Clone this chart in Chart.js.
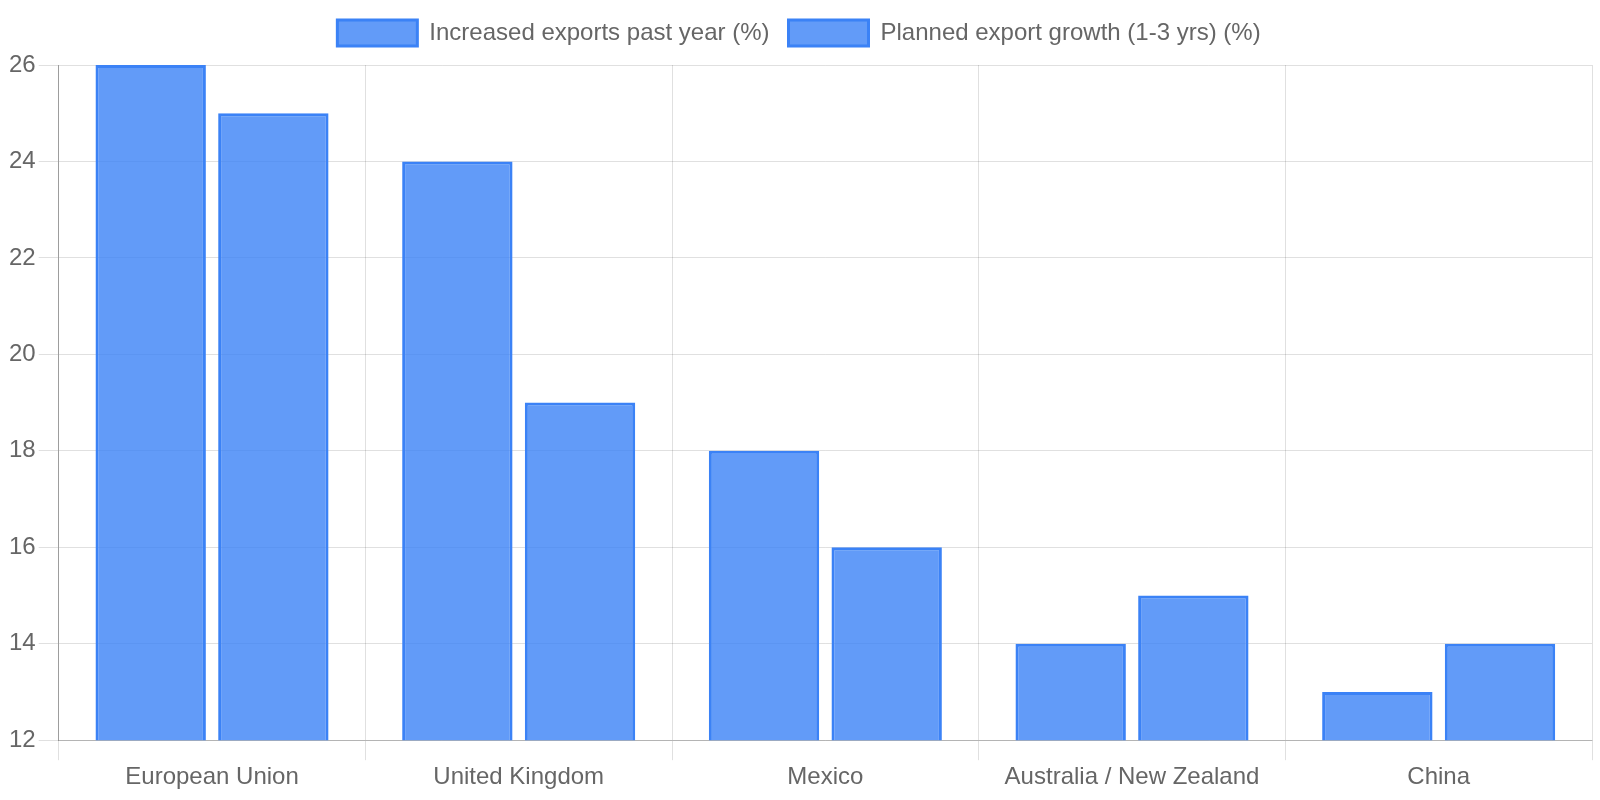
<!DOCTYPE html>
<html>
<head>
<meta charset="utf-8">
<script src="https://cdn.jsdelivr.net/npm/chart.js@4"></script>
<style>
  html, body { margin: 0; padding: 0; background: #fff; }
  #wrap { width: 1600px; height: 800px; }
</style>
</head>
<body>
<div id="wrap"><canvas id="chart"></canvas></div>
<script>
const regions = ['European Union', 'United Kingdom', 'Mexico', 'Australia / New Zealand', 'China'];
const increasedPastYear = [26, 24, 18, 14, 13];
const plannedGrowth = [25, 19, 16, 15, 14];

Chart.defaults.font.family = "'Liberation Sans', Arial, sans-serif";
Chart.defaults.font.size = 24;
Chart.defaults.color = '#666';

// a bit more room under the legend
const legendGap = {
  id: 'legendGap',
  beforeInit(chart) {
    const fit = chart.legend.fit;
    chart.legend.fit = function () {
      fit.call(this);
      this.height += 9;
    };
  }
};

const ctx = document.getElementById('chart').getContext('2d');
new Chart(ctx, {
  type: 'bar',
  data: {
    labels: regions,
    datasets: [
      {
        label: 'Increased exports past year (%)',
        data: increasedPastYear,
        backgroundColor: 'rgba(59, 130, 246, 0.8)',
        borderColor: 'rgb(59, 130, 246)',
        borderWidth: 3
      },
      {
        label: 'Planned export growth (1-3 yrs) (%)',
        data: plannedGrowth,
        backgroundColor: 'rgba(59, 130, 246, 0.8)',
        borderColor: 'rgb(59, 130, 246)',
        borderWidth: 3
      }
    ]
  },
  options: {
    responsive: true,
    maintainAspectRatio: false,
    animation: false,
    layout: { padding: { top: 1, left: 6, right: 8, bottom: 5 } },
    plugins: {
      legend: {
        labels: { boxWidth: 80, boxHeight: 26, padding: 19 }
      },
      tooltip: { enabled: false }
    },
    scales: {
      y: {
        min: 12,
        max: 26,
        ticks: { stepSize: 2 },
        grid: { tickLength: 20, color: 'rgba(0,0,0,0.12)' },
        border: { color: 'rgba(0,0,0,0.3)' }
      },
      x: {
        grid: { tickLength: 20, color: 'rgba(0,0,0,0.12)' },
        border: { color: 'rgba(0,0,0,0.2)' }
      }
    }
  },
  plugins: [legendGap]
});
</script>
</body>
</html>
